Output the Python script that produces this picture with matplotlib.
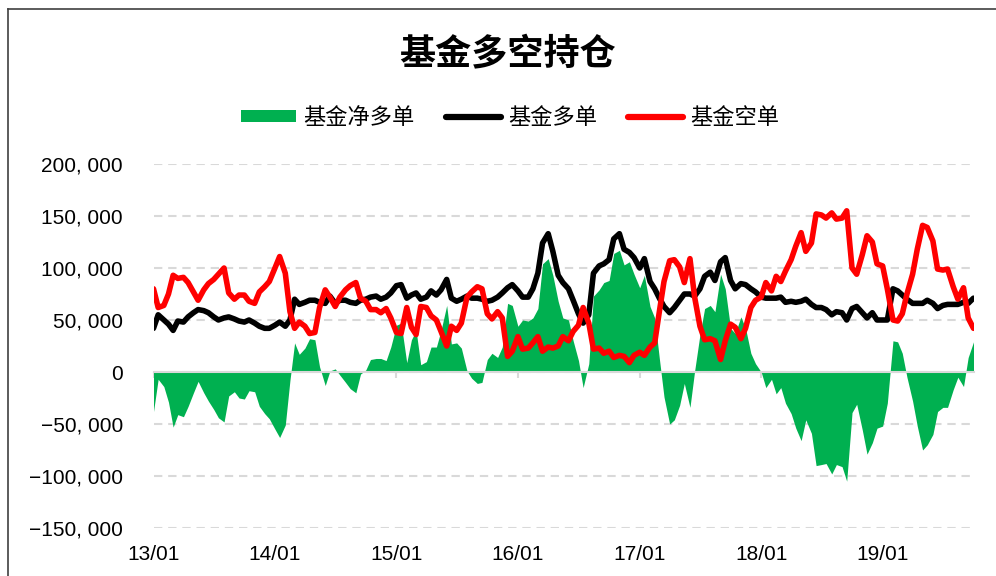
import pandas as pd
import matplotlib
matplotlib.use("Agg")
import matplotlib.pyplot as plt
import matplotlib.dates as mdates
from matplotlib.patches import Patch
from matplotlib.lines import Line2D
from matplotlib.ticker import FuncFormatter

plt.rcParams["font.family"] = ["Noto Sans CJK SC", "DejaVu Sans"]

# semi-monthly observations, Jan 2013 .. Oct 2019
dates = pd.date_range("2013-01-01", periods=163, freq="SMS")

# fund long positions (thousand contracts)
long_k = [42, 55, 50, 46, 40, 49, 48, 53, 57, 60,
          59, 57, 53, 50, 52, 53, 51, 49, 48, 50,
          47, 44, 42, 42, 45, 48, 44, 50, 70, 65,
          67, 69, 69, 67, 66, 73, 66, 69, 69, 67,
          66, 69, 70, 72, 73, 70, 72, 76, 83, 84,
          71, 74, 76, 70, 72, 78, 74, 79, 89, 71,
          68, 70, 73, 71, 71, 70, 68, 69, 72, 76,
          81, 84, 78, 72, 72, 80, 95, 124, 133, 116,
          93, 86, 80, 69, 56, 47, 55, 95, 102, 104,
          108, 128, 133, 118, 115, 110, 100, 109, 87, 80,
          71, 63, 57, 62, 69, 75, 75, 73, 80, 92,
          96, 88, 106, 110, 88, 80, 85, 84, 80, 77,
          72, 71, 71, 71, 72, 67, 68, 67, 68, 70,
          65, 62, 62, 60, 55, 58, 57, 50, 61, 63,
          57, 52, 57, 50, 50, 50, 80, 78, 74, 70,
          66, 66, 66, 69, 66, 61, 64, 65, 65, 65,
          67, 66, 71]

# fund short positions (thousand contracts)
short_k = [80, 62, 64, 75, 93, 90, 91, 86, 77, 69,
           79, 85, 89, 94, 100, 76, 70, 74, 74, 68,
           66, 77, 82, 87, 100, 111, 95, 58, 42, 48,
           44, 37, 38, 62, 79, 72, 63, 72, 79, 83,
           86, 71, 68, 60, 60, 57, 61, 52, 38, 37,
           62, 43, 36, 63, 62, 54, 50, 39, 25, 44,
           40, 47, 72, 77, 82, 80, 56, 51, 58, 52,
           15, 20, 34, 22, 23, 28, 34, 20, 24, 23,
           25, 34, 30, 39, 45, 62, 47, 22, 23, 18,
           20, 14, 16, 15, 9, 16, 19, 16, 24, 28,
           58, 87, 107, 108, 101, 86, 109, 72, 44, 31,
           32, 30, 12, 30, 46, 43, 32, 42, 62, 69,
           72, 86, 78, 92, 87, 97, 108, 121, 134, 116,
           124, 152, 151, 148, 153, 147, 148, 155, 100, 94,
           113, 131, 125, 104, 102, 80, 50, 49, 56, 75,
           94, 118, 141, 139, 126, 99, 98, 99, 82, 70,
           81, 52, 42]

long_pos = [v * 1000 for v in long_k]
short_pos = [v * 1000 for v in short_k]
net_pos = [l - s for l, s in zip(long_pos, short_pos)]

labels = ["基金净多单", "基金多单", "基金空单"]
y_ticks = [-150000, -100000, -50000, 0, 50000, 100000, 150000, 200000]

fig = plt.figure(figsize=(9.96, 5.76), dpi=100)
ax = fig.add_axes([153.5 / 996, 48 / 576, 820 / 996, 364 / 576])

ax.fill_between(dates, net_pos, 0, color="#00b050", linewidth=0, zorder=1)
ax.plot(dates, long_pos, color="black", linewidth=4, solid_joinstyle="round",
        solid_capstyle="round", zorder=3)
ax.plot(dates, short_pos, color="#ff0000", linewidth=4, solid_joinstyle="round",
        solid_capstyle="round", zorder=4)

ax.set_xlim(dates[0], dates[-1])
ax.set_ylim(-150000, 200000)
ax.set_yticks(y_ticks)
ax.yaxis.set_major_formatter(FuncFormatter(
    lambda v, p: f"{int(v):,}".replace(",", ", ").replace("-", "\u2212")))
ax.xaxis.set_major_locator(mdates.YearLocator())
ax.xaxis.set_major_formatter(mdates.DateFormatter("%y/%m"))

ax.set_axisbelow(True)
ax.yaxis.grid(True, color="#d9d9d9", linewidth=1.5, linestyle=(0, (4, 2.8)))
for s in ["top", "right", "left"]:
    ax.spines[s].set_visible(False)
ax.spines["bottom"].set_position(("data", 0))
ax.spines["bottom"].set_color("#d9d9d9")
ax.spines["bottom"].set_linewidth(1.5)
ax.spines["bottom"].set_zorder(2)

ax.tick_params(axis="x", direction="out", length=4.5, width=1.5, color="#d9d9d9",
               pad=120, labelsize=15)
ax.tick_params(axis="y", length=0, pad=22, labelsize=15)
for t in ax.get_xticklabels() + ax.get_yticklabels():
    t.set_fontfamily(["Liberation Sans", "DejaVu Sans"])

fig.text(508 / 996, 1 - 55 / 576, "基金多空持仓", ha="center", va="center",
         fontsize=26, fontweight="bold")

handles = [Patch(facecolor="#00b050", edgecolor="none"),
           Line2D([], [], color="black", linewidth=4.5, solid_capstyle="round"),
           Line2D([], [], color="#ff0000", linewidth=4.5, solid_capstyle="round")]
fig.legend(handles, labels, loc="center", bbox_to_anchor=(510 / 996, 1 - 117 / 576),
           ncol=3, frameon=False, fontsize=16, handlelength=2.5, handleheight=0.45,
           handletextpad=0.3, columnspacing=1.4)

# chart frame (cropped at right/bottom like the original)
fig.add_artist(Line2D([7.5 / 996, 7.5 / 996], [0, 1 - 9 / 576], color="#404040",
                      linewidth=1.2, transform=fig.transFigure))
fig.add_artist(Line2D([7.5 / 996, 1], [1 - 9 / 576, 1 - 9 / 576], color="#404040",
                      linewidth=1.2, transform=fig.transFigure))

fig.savefig("out.png", dpi=100)
